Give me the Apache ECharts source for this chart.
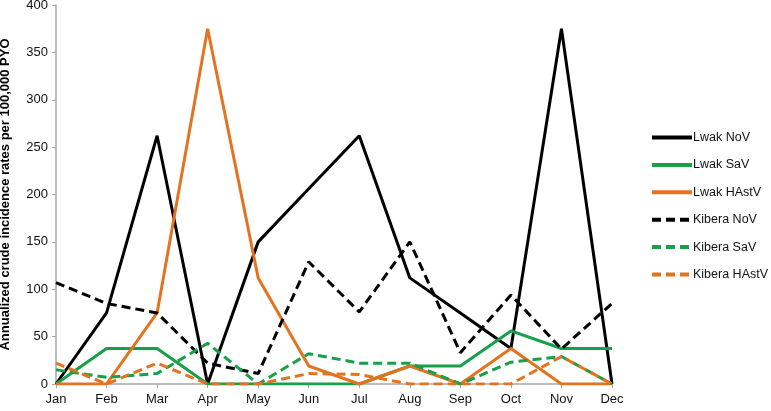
<!DOCTYPE html>
<html>
<head>
<meta charset="UTF-8">
<title>Incidence rates</title>
<script src="https://cdn.jsdelivr.net/npm/echarts@6/dist/echarts.min.js"></script>
<style>
  html, body { margin: 0; padding: 0; background: #fff; }
  #main { width: 771px; height: 411px; }
</style>
</head>
<body>
<div id="main"></div>
<script type="text/javascript">
// data
var months = ['Jan', 'Feb', 'Mar', 'Apr', 'May', 'Jun', 'Jul', 'Aug', 'Sep', 'Oct', 'Nov', 'Dec'];
var yTicks = [0, 50, 100, 150, 200, 250, 300, 350, 400];

var lwakNoV      = [0, 75, 262, 0, 150, 206, 262, 112, 75, 37.5, 375, 0];
var lwakSaV      = [0, 37.5, 37.5, 0, 0, 0, 0, 19, 19, 56, 37.5, 37.5];
var lwakHAstV    = [0, 0, 75, 375, 112, 19, 0, 19, 0, 37.5, 0, 0];
var kiberaNoV    = [107, 85, 75, 22, 11, 129, 76, 150, 33, 94, 37, 85];
var kiberaSaV    = [15, 7, 11, 43, 0, 32, 22, 22, 0, 23, 29, 0];
var kiberaHAstV  = [22, 0, 22, 0, 0, 11, 10, 0, 0, 0, 29, 0];

var BLACK = '#000000', GREEN = '#17a04a', ORANGE = '#e4731f';

function line(name, data, color, dashed) {
    return {
        name: name,
        type: 'line',
        data: data,
        symbol: 'none',
        color: color,
        lineStyle: { width: 3, color: color, type: dashed ? [9, 5] : 'solid' },
        animation: false
    };
}

var myChart = echarts.init(document.getElementById('main'));

myChart.setOption({
    backgroundColor: '#ffffff',
    textStyle: { fontFamily: 'Liberation Sans' },
    grid: { left: 56, right: 159, top: 5, bottom: 27, containLabel: false, outerBoundsMode: 'none' },
    legend: {
        orient: 'vertical',
        left: 645,
        top: 125,
        itemWidth: 40,
        itemHeight: 14,
        itemGap: 12.4,
        itemStyle: { opacity: 0 },
        lineStyle: { width: 4 },
        textStyle: { fontSize: 12.5, color: '#111', padding: [0, 0, 0, -4], lineHeight: 15 },
        data: ['Lwak NoV', 'Lwak SaV', 'Lwak HAstV', 'Kibera NoV', 'Kibera SaV', 'Kibera HAstV']
    },
    xAxis: {
        type: 'category',
        data: months,
        boundaryGap: false,
        axisLine: { lineStyle: { color: '#a6a6a6', width: 1.5 } },
        axisTick: { show: true, length: 4, lineStyle: { color: '#a6a6a6' } },
        axisLabel: { fontSize: 13, color: '#111', margin: 9 }
    },
    yAxis: {
        type: 'value',
        min: yTicks[0],
        max: yTicks[yTicks.length - 1],
        interval: 50,
        name: 'Annualized crude incidence rates per 100,000 PYO',
        nameLocation: 'middle',
        nameGap: 44,
        nameTextStyle: { fontSize: 13, fontWeight: 'bold', color: '#000' },
        axisLine: { show: true, lineStyle: { color: '#a6a6a6', width: 1.5 } },
        axisTick: { show: true, length: 4, lineStyle: { color: '#a6a6a6' } },
        axisLabel: { fontSize: 13, color: '#111', margin: 8 },
        splitLine: { show: false }
    },
    series: [
        line('Lwak NoV', lwakNoV, BLACK, false),
        line('Lwak SaV', lwakSaV, GREEN, false),
        line('Lwak HAstV', lwakHAstV, ORANGE, false),
        line('Kibera NoV', kiberaNoV, BLACK, true),
        line('Kibera SaV', kiberaSaV, GREEN, true),
        line('Kibera HAstV', kiberaHAstV, ORANGE, true)
    ]
});
</script>
</body>
</html>
